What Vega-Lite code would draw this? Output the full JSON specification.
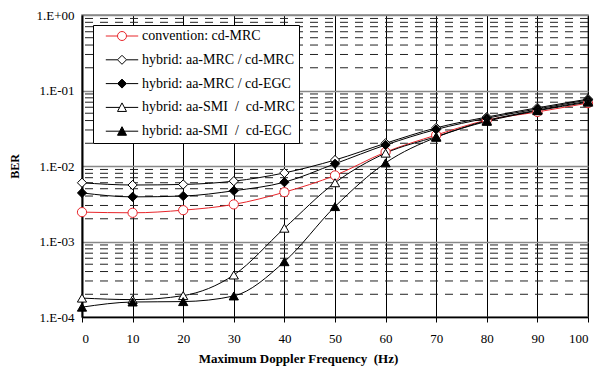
{
  "$schema": "https://vega.github.io/schema/vega-lite/v6.json",
  "autosize": "none",
  "width": 506,
  "height": 302,
  "padding": {"left": 82, "top": 15, "right": 10, "bottom": 49},
  "background": "white",
  "config": {
    "font": "Liberation Serif",
    "view": {"stroke": "#888888", "strokeWidth": 1.5},
    "axis": {"labelFont": "Liberation Serif", "titleFont": "Liberation Serif"},
    "style": {"guide-label": {"font": "Liberation Serif"}, "guide-title": {"font": "Liberation Serif"}},
    "legend": {
      "orient": "none",
      "legendX": 11,
      "legendY": 10,
      "fillColor": "white",
      "strokeColor": "black",
      "padding": 4,
      "symbolSize": 81,
      "symbolStrokeWidth": 1,
      "labelFontSize": 14,
      "labelFont": "Liberation Serif",
      "labelColor": "black",
      "labelOffset": 13,
      "symbolOffset": 18,
      "rowPadding": 9.8,
      "labelLimit": 300
    }
  },
  "datasets": {
    "ber": [
      {"x": 0, "series": "convention: cd-MRC", "ber": 0.00245},
      {"x": 10, "series": "convention: cd-MRC", "ber": 0.0024},
      {"x": 20, "series": "convention: cd-MRC", "ber": 0.0026},
      {"x": 30, "series": "convention: cd-MRC", "ber": 0.0031},
      {"x": 40, "series": "convention: cd-MRC", "ber": 0.0045},
      {"x": 50, "series": "convention: cd-MRC", "ber": 0.0075},
      {"x": 60, "series": "convention: cd-MRC", "ber": 0.0153},
      {"x": 70, "series": "convention: cd-MRC", "ber": 0.0257},
      {"x": 80, "series": "convention: cd-MRC", "ber": 0.0405},
      {"x": 90, "series": "convention: cd-MRC", "ber": 0.052},
      {"x": 100, "series": "convention: cd-MRC", "ber": 0.068},
      {"x": 0, "series": "hybrid: aa-MRC / cd-MRC", "ber": 0.006},
      {"x": 10, "series": "hybrid: aa-MRC / cd-MRC", "ber": 0.0056},
      {"x": 20, "series": "hybrid: aa-MRC / cd-MRC", "ber": 0.0057},
      {"x": 30, "series": "hybrid: aa-MRC / cd-MRC", "ber": 0.0063},
      {"x": 40, "series": "hybrid: aa-MRC / cd-MRC", "ber": 0.0081},
      {"x": 50, "series": "hybrid: aa-MRC / cd-MRC", "ber": 0.012},
      {"x": 60, "series": "hybrid: aa-MRC / cd-MRC", "ber": 0.02},
      {"x": 70, "series": "hybrid: aa-MRC / cd-MRC", "ber": 0.032},
      {"x": 80, "series": "hybrid: aa-MRC / cd-MRC", "ber": 0.0445},
      {"x": 90, "series": "hybrid: aa-MRC / cd-MRC", "ber": 0.059},
      {"x": 100, "series": "hybrid: aa-MRC / cd-MRC", "ber": 0.077},
      {"x": 0, "series": "hybrid: aa-MRC / cd-EGC", "ber": 0.0044},
      {"x": 10, "series": "hybrid: aa-MRC / cd-EGC", "ber": 0.0039},
      {"x": 20, "series": "hybrid: aa-MRC / cd-EGC", "ber": 0.004},
      {"x": 30, "series": "hybrid: aa-MRC / cd-EGC", "ber": 0.0047},
      {"x": 40, "series": "hybrid: aa-MRC / cd-EGC", "ber": 0.0061},
      {"x": 50, "series": "hybrid: aa-MRC / cd-EGC", "ber": 0.0107},
      {"x": 60, "series": "hybrid: aa-MRC / cd-EGC", "ber": 0.019},
      {"x": 70, "series": "hybrid: aa-MRC / cd-EGC", "ber": 0.0305},
      {"x": 80, "series": "hybrid: aa-MRC / cd-EGC", "ber": 0.043},
      {"x": 90, "series": "hybrid: aa-MRC / cd-EGC", "ber": 0.057},
      {"x": 100, "series": "hybrid: aa-MRC / cd-EGC", "ber": 0.075},
      {"x": 0, "series": "hybrid: aa-SMI \u00a0/ \u00a0cd-MRC", "ber": 0.000178},
      {"x": 10, "series": "hybrid: aa-SMI \u00a0/ \u00a0cd-MRC", "ber": 0.00017},
      {"x": 20, "series": "hybrid: aa-SMI \u00a0/ \u00a0cd-MRC", "ber": 0.000192},
      {"x": 30, "series": "hybrid: aa-SMI \u00a0/ \u00a0cd-MRC", "ber": 0.00036},
      {"x": 40, "series": "hybrid: aa-SMI \u00a0/ \u00a0cd-MRC", "ber": 0.0015},
      {"x": 50, "series": "hybrid: aa-SMI \u00a0/ \u00a0cd-MRC", "ber": 0.006},
      {"x": 60, "series": "hybrid: aa-SMI \u00a0/ \u00a0cd-MRC", "ber": 0.0148},
      {"x": 70, "series": "hybrid: aa-SMI \u00a0/ \u00a0cd-MRC", "ber": 0.0245},
      {"x": 80, "series": "hybrid: aa-SMI \u00a0/ \u00a0cd-MRC", "ber": 0.04},
      {"x": 90, "series": "hybrid: aa-SMI \u00a0/ \u00a0cd-MRC", "ber": 0.055},
      {"x": 100, "series": "hybrid: aa-SMI \u00a0/ \u00a0cd-MRC", "ber": 0.072},
      {"x": 0, "series": "hybrid: aa-SMI \u00a0/ \u00a0cd-EGC", "ber": 0.000135},
      {"x": 10, "series": "hybrid: aa-SMI \u00a0/ \u00a0cd-EGC", "ber": 0.000158},
      {"x": 20, "series": "hybrid: aa-SMI \u00a0/ \u00a0cd-EGC", "ber": 0.00016},
      {"x": 30, "series": "hybrid: aa-SMI \u00a0/ \u00a0cd-EGC", "ber": 0.00019},
      {"x": 40, "series": "hybrid: aa-SMI \u00a0/ \u00a0cd-EGC", "ber": 0.00054},
      {"x": 50, "series": "hybrid: aa-SMI \u00a0/ \u00a0cd-EGC", "ber": 0.0029},
      {"x": 60, "series": "hybrid: aa-SMI \u00a0/ \u00a0cd-EGC", "ber": 0.011},
      {"x": 70, "series": "hybrid: aa-SMI \u00a0/ \u00a0cd-EGC", "ber": 0.024},
      {"x": 80, "series": "hybrid: aa-SMI \u00a0/ \u00a0cd-EGC", "ber": 0.039},
      {"x": 90, "series": "hybrid: aa-SMI \u00a0/ \u00a0cd-EGC", "ber": 0.054},
      {"x": 100, "series": "hybrid: aa-SMI \u00a0/ \u00a0cd-EGC", "ber": 0.07}
    ],
    "minor": [
      {"v": 0.0002}, {"v": 0.0003}, {"v": 0.0004}, {"v": 0.0005}, {"v": 0.0006}, {"v": 0.0007}, {"v": 0.0008}, {"v": 0.0009},
      {"v": 0.002}, {"v": 0.003}, {"v": 0.004}, {"v": 0.005}, {"v": 0.006}, {"v": 0.007}, {"v": 0.008}, {"v": 0.009},
      {"v": 0.02}, {"v": 0.03}, {"v": 0.04}, {"v": 0.05}, {"v": 0.06}, {"v": 0.07}, {"v": 0.08}, {"v": 0.09},
      {"v": 0.2}, {"v": 0.3}, {"v": 0.4}, {"v": 0.5}, {"v": 0.6}, {"v": 0.7}, {"v": 0.8}, {"v": 0.9}
    ]
  },
  "resolve": {
    "scale": {"stroke": "independent", "fill": "independent", "shape": "independent"},
    "legend": {"stroke": "independent", "fill": "independent", "shape": "independent"}
  },
  "layer": [
    {
      "data": {"name": "minor"},
      "mark": {"type": "rule", "stroke": "#222222", "strokeWidth": 1, "strokeDash": [8, 7]},
      "encoding": {
        "y": {"field": "v", "type": "quantitative", "scale": {"type": "log", "domain": [0.0001, 1]}}
      }
    },
    {
      "data": {"name": "ber"},
      "mark": {"type": "line", "strokeWidth": 1, "interpolate": "monotone"},
      "encoding": {
        "x": {
          "field": "x", "type": "quantitative",
          "scale": {"domain": [0, 100], "nice": false},
          "axis": {
            "values": [0, 10, 20, 30, 40, 50, 60, 70, 80, 90, 100],
            "grid": true, "gridColor": "black", "gridWidth": 1, "gridOpacity": 1,
            "domainColor": "black", "domainWidth": 1.5,
            "tickColor": "black", "tickSize": 5,
            "labelFont": "Liberation Serif", "labelFontSize": 13, "labelColor": "black", "labelPadding": 10,
            "title": "Maximum Doppler Frequency \u00a0(Hz)",
            "titleFont": "Liberation Serif", "titleFontSize": 13, "titleFontWeight": "bold", "titleColor": "black",
            "titlePadding": 7, "titleX": 216, "titleAnchor": "middle"
          }
        },
        "y": {
          "field": "ber", "type": "quantitative",
          "scale": {"type": "log", "domain": [0.0001, 1]},
          "axis": {
            "values": [0.0001, 0.001, 0.01, 0.1, 1],
            "labelExpr": "datum.value >= 1 ? '1.E+00' : '1.E-0' + round(-log(datum.value)/LN10)",
            "grid": true, "gridColor": "#888888", "gridWidth": 1.5, "gridOpacity": 1,
            "domainColor": "black", "domainWidth": 2,
            "tickColor": "black", "tickSize": 0,
            "labelFont": "Liberation Serif", "labelFontSize": 13, "labelColor": "black", "labelPadding": 8,
            "title": "BER", "titleFont": "Liberation Serif", "titleFontSize": 12, "titleFontWeight": "bold", "titleColor": "black", "titlePadding": 14
          }
        },
        "stroke": {
          "field": "series", "type": "nominal",
          "scale": {
            "domain": ["convention: cd-MRC", "hybrid: aa-MRC / cd-MRC", "hybrid: aa-MRC / cd-EGC", "hybrid: aa-SMI \u00a0/ \u00a0cd-MRC", "hybrid: aa-SMI \u00a0/ \u00a0cd-EGC"],
            "range": ["#e8262b", "black", "black", "black", "black"]
          },
          "legend": null
        }
      }
    },
    {
      "data": {"name": "ber"},
      "mark": {"type": "point", "size": 85, "strokeWidth": 1, "opacity": 1, "filled": false},
      "encoding": {
        "x": {"field": "x", "type": "quantitative"},
        "y": {"field": "ber", "type": "quantitative"},
        "stroke": {
          "field": "series", "type": "nominal",
          "scale": {
            "domain": ["convention: cd-MRC", "hybrid: aa-MRC / cd-MRC", "hybrid: aa-MRC / cd-EGC", "hybrid: aa-SMI \u00a0/ \u00a0cd-MRC", "hybrid: aa-SMI \u00a0/ \u00a0cd-EGC"],
            "range": ["#e8262b", "black", "black", "black", "black"]
          },
          "legend": null
        },
        "fill": {
          "field": "series", "type": "nominal",
          "scale": {
            "domain": ["convention: cd-MRC", "hybrid: aa-MRC / cd-MRC", "hybrid: aa-MRC / cd-EGC", "hybrid: aa-SMI \u00a0/ \u00a0cd-MRC", "hybrid: aa-SMI \u00a0/ \u00a0cd-EGC"],
            "range": ["white", "white", "black", "white", "black"]
          },
          "legend": null
        },
        "shape": {
          "field": "series", "type": "nominal",
          "scale": {
            "domain": ["convention: cd-MRC", "hybrid: aa-MRC / cd-MRC", "hybrid: aa-MRC / cd-EGC", "hybrid: aa-SMI \u00a0/ \u00a0cd-MRC", "hybrid: aa-SMI \u00a0/ \u00a0cd-EGC"],
            "range": ["circle", "diamond", "diamond", "triangle-up", "triangle-up"]
          },
          "legend": null
        }
      }
    },
    {
      "data": {"name": "ber"},
      "transform": [{"filter": "false"}],
      "mark": {"type": "point", "strokeWidth": 1, "opacity": 1, "filled": false},
      "encoding": {
        "x": {"field": "x", "type": "quantitative"},
        "y": {"field": "ber", "type": "quantitative"},
        "stroke": {
          "field": "series", "type": "nominal",
          "scale": {
            "domain": ["convention: cd-MRC", "hybrid: aa-MRC / cd-MRC", "hybrid: aa-MRC / cd-EGC", "hybrid: aa-SMI \u00a0/ \u00a0cd-MRC", "hybrid: aa-SMI \u00a0/ \u00a0cd-EGC"],
            "range": ["#e8262b", "black", "black", "black", "black"]
          },
          "legend": {"title": null}
        },
        "fill": {
          "field": "series", "type": "nominal",
          "scale": {
            "domain": ["convention: cd-MRC", "hybrid: aa-MRC / cd-MRC", "hybrid: aa-MRC / cd-EGC", "hybrid: aa-SMI \u00a0/ \u00a0cd-MRC", "hybrid: aa-SMI \u00a0/ \u00a0cd-EGC"],
            "range": ["white", "white", "black", "white", "black"]
          },
          "legend": {"title": null}
        },
        "shape": {
          "field": "series", "type": "nominal",
          "scale": {
            "domain": ["convention: cd-MRC", "hybrid: aa-MRC / cd-MRC", "hybrid: aa-MRC / cd-EGC", "hybrid: aa-SMI \u00a0/ \u00a0cd-MRC", "hybrid: aa-SMI \u00a0/ \u00a0cd-EGC"],
            "range": [
              "M-3.6,0H-1M1,0H3.6M-1,0A1,1,0,1,1,1,0A1,1,0,1,1,-1,0Z",
              "M-3.6,0H-1M1,0H3.6M0,-1L1,0L0,1L-1,0Z",
              "M-3.6,0H-1M1,0H3.6M0,-1L1,0L0,1L-1,0Z",
              "M-3.6,0H-0.53M0.53,0H3.6M0,-1L1,0.9L-1,0.9Z",
              "M-3.6,0H-0.53M0.53,0H3.6M0,-1L1,0.9L-1,0.9Z"
            ]
          },
          "legend": {"title": null}
        }
      }
    }
  ]
}
